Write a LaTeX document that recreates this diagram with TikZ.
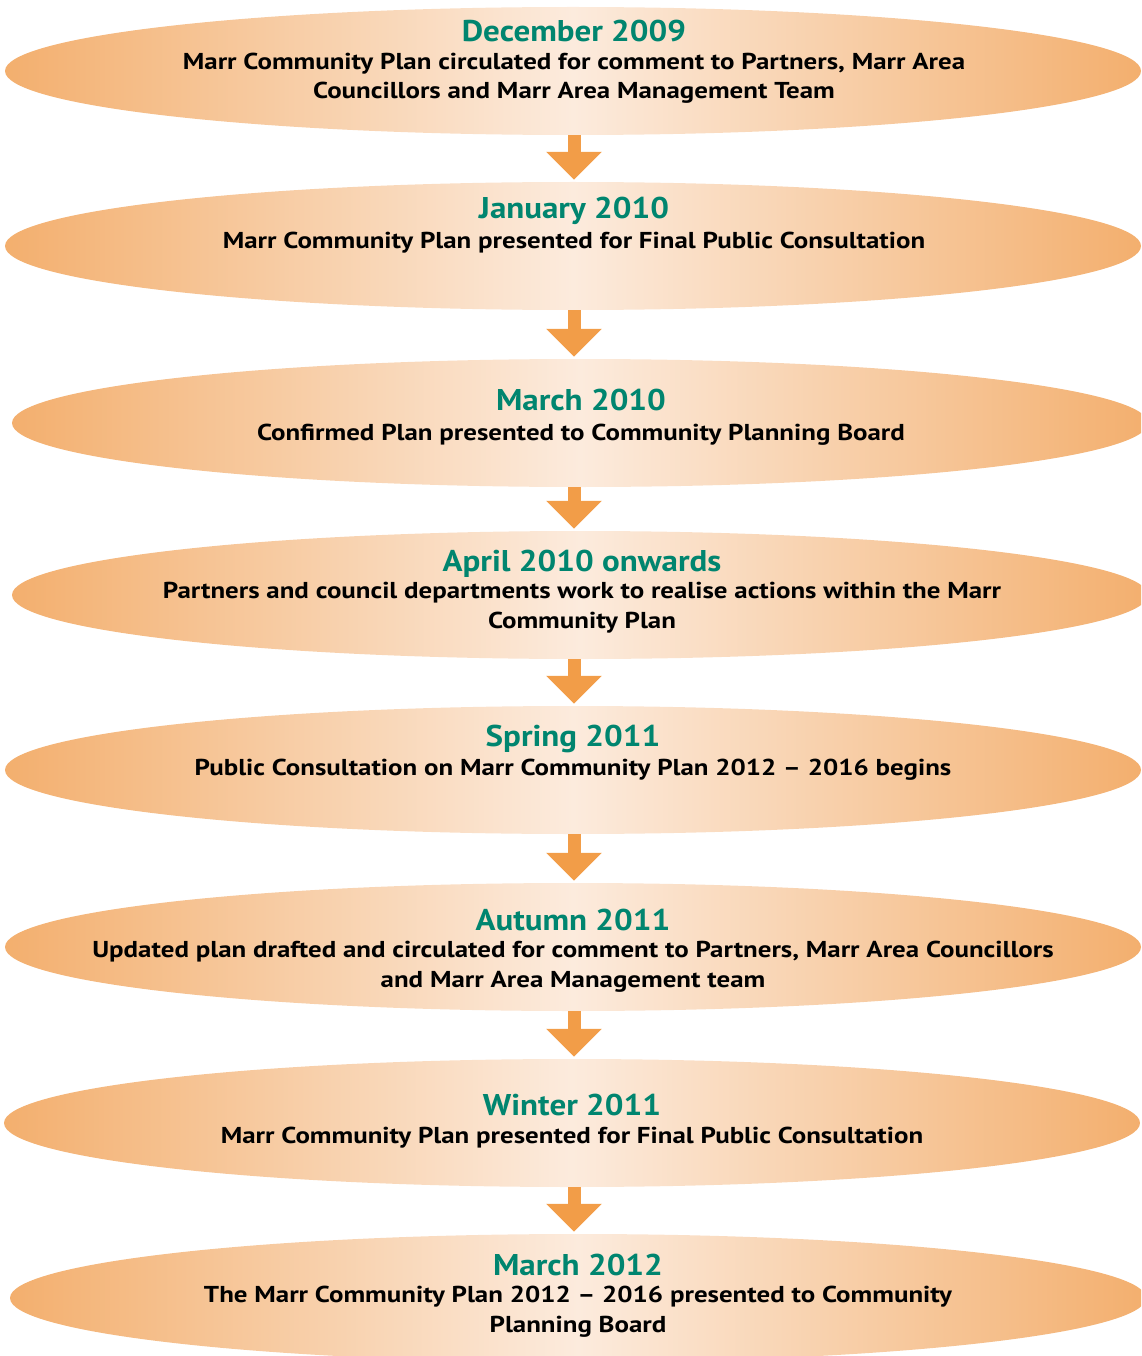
\documentclass[tikz,border=0pt]{standalone}
\usepackage{fontspec}
\setmainfont{PT Sans}
\newfontfamily\datefont{PT Sans}[FakeStretch=1.1]
\newfontfamily\whatfont{PT Sans}[FakeStretch=1.17]
\usetikzlibrary{shapes.geometric}
\usetikzlibrary{arrows.meta}

\definecolor{stageedge}{HTML}{F3AF6E}
\definecolor{stagemid}{HTML}{FCEBDD}
\definecolor{titlegreen}{HTML}{00856F}
\definecolor{flowarrow}{HTML}{F29D48}

\begin{document}
\begin{tikzpicture}[x=1pt,y=-1pt,
    stage/.style = {ellipse, minimum width=1136pt, minimum height=128pt, inner sep=0pt,
        left color=stageedge, right color=stageedge, middle color=stagemid},
    stage title/.style = {anchor=base, inner sep=0pt, text=titlegreen,
        font=\datefont\fontsize{30}{36}\selectfont\bfseries},
    stage text/.style = {anchor=base, inner sep=0pt, align=center,
        font=\whatfont\fontsize{23}{29.5}\selectfont\bfseries},
    flow/.style = {draw=flowarrow, line width=13pt,
        -{Triangle[width=54pt,length=28pt]}, shorten >=2pt}]
    \useasboundingbox (0,0) rectangle (1141,1356);
    \clip (0,0) rectangle (1141,1356);

    % the stages
    \node [stage] (dec) at (573,71) {};
    \node [stage] (jan) at (573,246) {};
    \node [stage] (mar) at (580,423) {};
    \node [stage] (apr) at (580,595) {};
    \node [stage] (spring) at (573,770) {};
    \node [stage] (autumn) at (573,947) {};
    \node [stage] (winter) at (572,1123) {};
    \node [stage] (mar12) at (578,1298) {};

    % dates and what happens (two-line texts sit on their last line)
    \node [stage title] (dec date) at (574,42) {December 2009};
    \node [stage text] (dec what) at (574,99) {Marr Community Plan circulated for comment to Partners, Marr Area\\Councillors and Marr Area Management Team};
    \node [stage title] (jan date) at (574,219) {January 2010};
    \node [stage text] (jan what) at (574,249) {Marr Community Plan presented for Final Public Consultation};
    \node [stage title] (mar date) at (581,410) {March 2010};
    \node [stage text] (mar what) at (581,440) {Confirmed Plan presented to Community Planning Board};
    \node [stage title] (apr date) at (582,571) {April 2010 onwards};
    \node [stage text] (apr what) at (582,628) {Partners and council departments work to realise actions within the Marr\\Community Plan};
    \node [stage title] (spring date) at (573,746) {Spring 2011};
    \node [stage text] (spring what) at (573,775) {Public Consultation on Marr Community Plan 2012 – 2016 begins};
    \node [stage title] (autumn date) at (573,930) {Autumn 2011};
    \node [stage text] (autumn what) at (573,987) {Updated plan drafted and circulated for comment to Partners, Marr Area Councillors\\and Marr Area Management team};
    \node [stage title] (winter date) at (572,1115) {Winter 2011};
    \node [stage text] (winter what) at (572,1143) {Marr Community Plan presented for Final Public Consultation};
    \node [stage title] (mar12 date) at (578,1275) {March 2012};
    \node [stage text] (mar12 what) at (578,1332) {The Marr Community Plan 2012 – 2016 presented to Community\\Planning Board};

    % arrows down the middle
    \coordinate (spine) at (574,0);
    \draw [flow] (spine |- dec.south) -- (spine |- jan.north);
    \draw [flow] (spine |- jan.south) -- (spine |- mar.north);
    \draw [flow] (spine |- mar.south) -- (spine |- apr.north);
    \draw [flow] (spine |- apr.south) -- (spine |- spring.north);
    \draw [flow] (spine |- spring.south) -- (spine |- autumn.north);
    \draw [flow] (spine |- autumn.south) -- (spine |- winter.north);
    \draw [flow] (spine |- winter.south) -- (spine |- mar12.north);
\end{tikzpicture}
\end{document}
